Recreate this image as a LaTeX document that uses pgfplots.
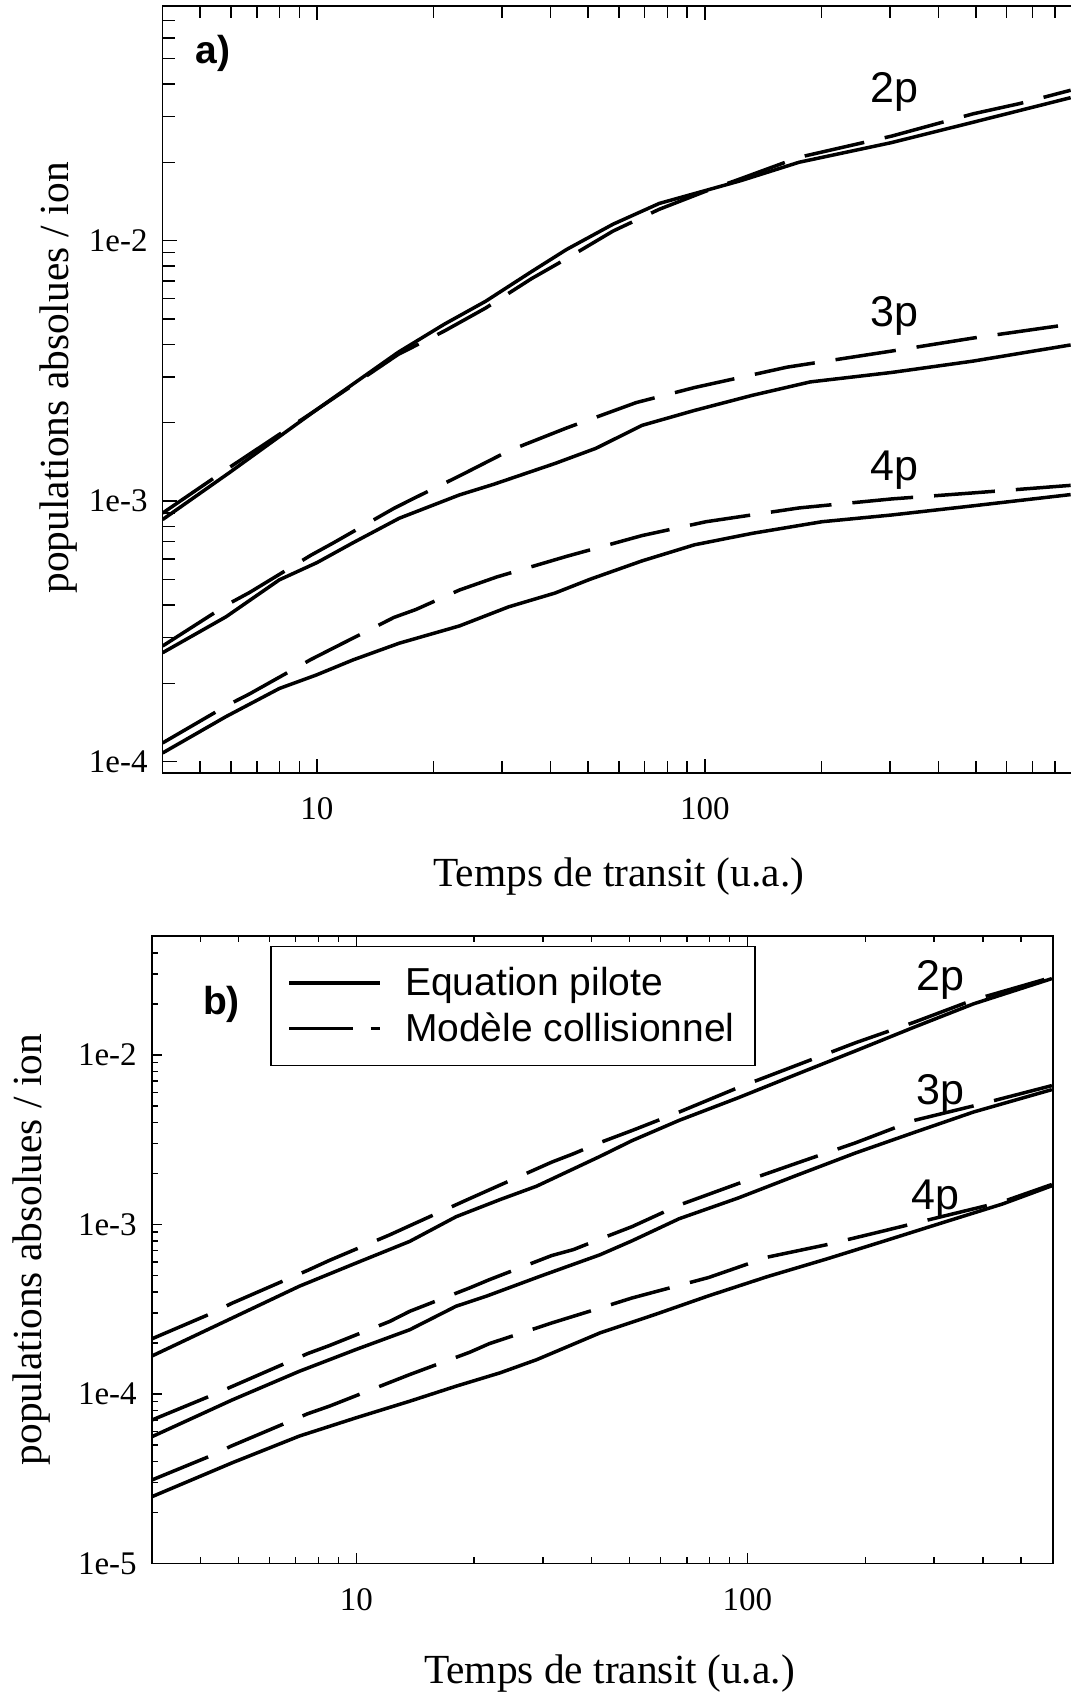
\documentclass[border=0pt]{standalone}
\usepackage{fontspec}
\setmainfont{Liberation Serif}
\newfontfamily\sansf{Liberation Sans}
\usepackage{pgfplots}
\pgfplotsset{compat=1.18}
\pgfplotsset{
  refstyle/.style={
    scale only axis,
    axis line style={line width=0.8bp},
    tick style={line width=0.7bp, black},
    tick align=inside,
    ytick pos=left, xtick pos=both, xticklabel pos=lower,
    /pgf/number format/assume math mode=true,
    tick label style={font=\fontsize{16.5bp}{19bp}\selectfont},
    label style={font=\fontsize{20.7bp}{24bp}\selectfont},
    xtick={10,100}, xticklabels={\textrm{10},\textrm{100}},
    xticklabel style={yshift=-9bp},
    yticklabel style={xshift=-4bp},
    ylabel={populations absolues / ion},
    xlabel={Temps de transit (u.a.)},
  },
  sol/.style={black, line width=1.75bp, solid},
  dsh/.style={black, line width=1.75bp, dash pattern=on 30.5bp off 10.5bp},
  solleg/.style={legend image code/.code={\draw[##1] (0bp,0bp) -- (45.6bp,0bp);}},
  dshleg/.style={legend image code/.code={\draw[##1,solid] (0bp,0bp) -- (31.7bp,0bp); \draw[##1,solid] (40.7bp,0bp) -- (45.6bp,0bp);}},
}
\begin{document}
\begin{tikzpicture}
\path[use as bounding box] (0,0) rectangle (535.5bp,-847.5bp);
% ---------------- panel a ----------------
\begin{loglogaxis}[refstyle,
  at={(81.3bp,-386.35bp)}, anchor=south west,
  width=456.2bp, height=383.35bp,
  xmin=4, xmax=900, ymin=9.07e-5, ymax=0.0796,
  major tick length=7bp, minor tick length=6bp,
  ytick={1e-4,1e-3,1e-2}, yticklabels={\textrm{1e-4},\textrm{1e-3},\textrm{1e-2}},
  minor xtick={5,6,7,8,9,20,30,40,50,60,70,80,90,200,300,400,500,600,700,800},
  minor ytick={2e-4,3e-4,4e-4,5e-4,6e-4,7e-4,8e-4,9e-4,2e-3,3e-3,4e-3,5e-3,6e-3,7e-3,8e-3,9e-3,2e-2,3e-2,4e-2,5e-2,6e-2,7e-2},
  xlabel style={at={([yshift=-57bp]rel axis cs:0.5,0)}, anchor=base},
  ylabel style={at={([xshift=-47.3bp]rel axis cs:0,0.515)}, anchor=base},
]
% 2p
\addplot[sol] coordinates {(4,8.5e-4)(5.96,1.29e-3)(10,2.25e-3)(16.2,3.73e-3)(21.3,4.78e-3)(27.2,5.85e-3)(35.8,7.62e-3)(44.0,9.25e-3)(58.0,1.157e-2)(76.3,1.39e-2)(100.7,1.56e-2)(123.8,1.70e-2)(174.9,2.00e-2)(303,2.38e-2)(492,2.85e-2)(648,3.16e-2)(877,3.54e-2)};
\addplot[dsh] coordinates {(4,9.0e-4)(5.96,1.35e-3)(10,2.25e-3)(16.2,3.66e-3)(21.3,4.50e-3)(27.2,5.51e-3)(35.8,7.16e-3)(44.0,8.53e-3)(58.0,1.089e-2)(76.3,1.32e-2)(100.7,1.55e-2)(123.8,1.73e-2)(174.9,2.09e-2)(303,2.52e-2)(492,3.07e-2)(648,3.36e-2)(877,3.78e-2)};
% 3p
\addplot[sol] coordinates {(4,2.62e-4)(5.83,3.60e-4)(8.0,4.99e-4)(10,5.81e-4)(12.4,6.93e-4)(16.3,8.60e-4)(23.3,1.057e-3)(28.5,1.16e-3)(41.1,1.396e-3)(52.4,1.596e-3)(68.9,1.955e-3)(94.0,2.23e-3)(132.7,2.55e-3)(187,2.87e-3)(303,3.12e-3)(492,3.45e-3)(877,3.98e-3)};
\addplot[dsh] coordinates {(4,2.78e-4)(5.89,4.02e-4)(6.7,4.46e-4)(9.66,6.21e-4)(10.97,6.89e-4)(15.8,9.39e-4)(18,1.035e-3)(23.3,1.25e-3)(31.2,1.56e-3)(44,1.91e-3)(66.5,2.39e-3)(94,2.73e-3)(163,3.27e-3)(303,3.77e-3)(492,4.23e-3)(877,4.78e-3)};
% 4p
\addplot[sol] coordinates {(4,1.08e-4)(5.83,1.49e-4)(8.0,1.91e-4)(9.95,2.15e-4)(12.4,2.46e-4)(16.3,2.85e-4)(23.3,3.32e-4)(31.2,3.93e-4)(41.1,4.44e-4)(50.5,5.01e-4)(68.9,5.90e-4)(94,6.80e-4)(132.7,7.53e-4)(200.5,8.34e-4)(303,8.85e-4)(492,9.60e-4)(877,1.06e-3)};
\addplot[dsh] coordinates {(4,1.18e-4)(5.89,1.65e-4)(6.7,1.82e-4)(9.66,2.47e-4)(10.97,2.72e-4)(15.8,3.58e-4)(18,3.84e-4)(23.3,4.56e-4)(29.1,5.12e-4)(44,6.14e-4)(68.9,7.38e-4)(100.7,8.34e-4)(174.9,9.42e-4)(303,1.02e-3)(492,1.076e-3)(877,1.15e-3)};
\node[font=\sansf\fontsize{21.5bp}{24bp}\selectfont] at (axis cs:307.6,3.74e-2) {2p};
\node[font=\sansf\fontsize{21.5bp}{24bp}\selectfont] at (axis cs:307.6,5.15e-3) {3p};
\node[font=\sansf\fontsize{21.5bp}{24bp}\selectfont] at (axis cs:307.6,1.31e-3) {4p};
\node[font=\sansf\bfseries\fontsize{19.5bp}{22bp}\selectfont] at (rel axis cs:0.0552,0.9383) {a)};
\end{loglogaxis}
% ---------------- panel b ----------------
\begin{loglogaxis}[refstyle,
  at={(75.85bp,-781.65bp)}, anchor=south west,
  width=450.5bp, height=313.8bp,
  xmin=3, xmax=603, ymin=1e-5, ymax=0.0505,
  major tick length=5bp, minor tick length=3bp,
  ytick={1e-5,1e-4,1e-3,1e-2}, yticklabels={\textrm{1e-5},\textrm{1e-4},\textrm{1e-3},\textrm{1e-2}},
  minor xtick={4,5,6,7,8,9,20,30,40,50,60,70,80,90,200,300,400,500},
  minor ytick={2e-5,3e-5,4e-5,5e-5,6e-5,7e-5,8e-5,9e-5,2e-4,3e-4,4e-4,5e-4,6e-4,7e-4,8e-4,9e-4,2e-3,3e-3,4e-3,5e-3,6e-3,7e-3,8e-3,9e-3,2e-2,3e-2,4e-2},
  xlabel style={at={([yshift=-59.9bp]rel axis cs:0.508,0)}, anchor=base},
  ylabel style={at={([xshift=-54.9bp]rel axis cs:0,0.5)}, anchor=base},
  legend cell align=left,
  legend style={at={(0.1313,0.984)}, anchor=north west, draw=black, line width=0.8bp, fill=white,
    inner xsep=8.3bp, inner ysep=8.5bp, row sep=3bp,
    font=\sansf\fontsize{19.5bp}{22bp}\selectfont,
    nodes={inner sep=2bp, text depth=0.15em},
    /tikz/every odd column/.append style={column sep=9.5bp}},
]
% 2p
\addplot[sol, solleg] coordinates {(3,1.67e-4)(4.83,2.81e-4)(7.16,4.32e-4)(10,5.92e-4)(13.7,7.94e-4)(18,1.11e-3)(23.3,1.40e-3)(28.9,1.68e-3)(42,2.52e-3)(50.7,3.12e-3)(66.9,4.11e-3)(94.6,5.58e-3)(133.8,7.70e-3)(189,1.057e-2)(267,1.459e-2)(378,2.00e-2)(600,2.82e-2)};
\addlegendentry{Equation pilote}
\addplot[dsh, dshleg] coordinates {(3,2.11e-4)(4.3,3.01e-4)(4.79,3.41e-4)(7.52,5.36e-4)(8.55,6.14e-4)(12.2,8.69e-4)(13.7,9.82e-4)(19.5,1.42e-3)(21.9,1.60e-3)(31.6,2.33e-3)(35.9,2.61e-3)(42,3.04e-3)(50.7,3.58e-3)(66.9,4.60e-3)(94.6,6.41e-3)(133.8,8.70e-3)(189,1.18e-2)(267,1.56e-2)(378,2.11e-2)(600,2.87e-2)};
\addlegendentry{Modèle collisionnel}
% 3p
\addplot[sol, forget plot] coordinates {(3,5.58e-5)(4.83,9.23e-5)(7.16,1.36e-4)(10,1.83e-4)(13.7,2.39e-4)(18,3.29e-4)(21.5,3.77e-4)(29.5,4.94e-4)(42,6.62e-4)(50.7,8.0e-4)(66.9,1.08e-3)(94.6,1.43e-3)(133.8,1.95e-3)(189,2.64e-3)(267,3.49e-3)(378,4.60e-3)(600,6.24e-3)};
\addplot[dsh, forget plot] coordinates {(3,7.0e-5)(4.3,9.86e-5)(4.79,1.10e-4)(7.52,1.73e-4)(8.55,1.93e-4)(12.2,2.68e-4)(13.7,3.07e-4)(19.5,4.22e-4)(21.9,4.72e-4)(31.6,6.55e-4)(35.9,7.10e-4)(42,8.20e-4)(50.7,9.7e-4)(66.9,1.30e-3)(94.6,1.74e-3)(133.8,2.30e-3)(189,3.03e-3)(267,4.11e-3)(378,5.00e-3)(600,6.59e-3)};
% 4p
\addplot[sol, forget plot] coordinates {(3,2.47e-5)(4.83,3.93e-5)(7.16,5.64e-5)(10,7.23e-5)(13.7,9.05e-5)(18,1.11e-4)(23.3,1.33e-4)(28.9,1.59e-4)(42,2.29e-4)(58.3,2.95e-4)(79.6,3.79e-4)(112.5,4.92e-4)(159,6.24e-4)(225,8.01e-4)(318,1.03e-3)(449,1.32e-3)(600,1.69e-3)};
\addplot[dsh, forget plot] coordinates {(3,3.1e-5)(4.3,4.36e-5)(4.79,4.92e-5)(7.52,7.64e-5)(8.55,8.47e-5)(12.2,1.17e-4)(13.7,1.30e-4)(19.5,1.76e-4)(21.9,1.98e-4)(31.6,2.62e-4)(35.9,2.87e-4)(42,3.21e-4)(50.7,3.68e-4)(79.6,4.86e-4)(112.5,6.41e-4)(159,7.58e-4)(225,9.20e-4)(318,1.12e-3)(449,1.36e-3)(600,1.72e-3)};
\node[font=\sansf\fontsize{21.5bp}{24bp}\selectfont] at (axis cs:311,2.77e-2) {2p};
\node[font=\sansf\fontsize{21.5bp}{24bp}\selectfont] at (axis cs:311,5.89e-3) {3p};
\node[font=\sansf\fontsize{21.5bp}{24bp}\selectfont] at (axis cs:302,1.40e-3) {4p};
\node[font=\sansf\bfseries\fontsize{19.5bp}{22bp}\selectfont] at (rel axis cs:0.0775,0.890) {b)};
\end{loglogaxis}
\end{tikzpicture}
\end{document}
